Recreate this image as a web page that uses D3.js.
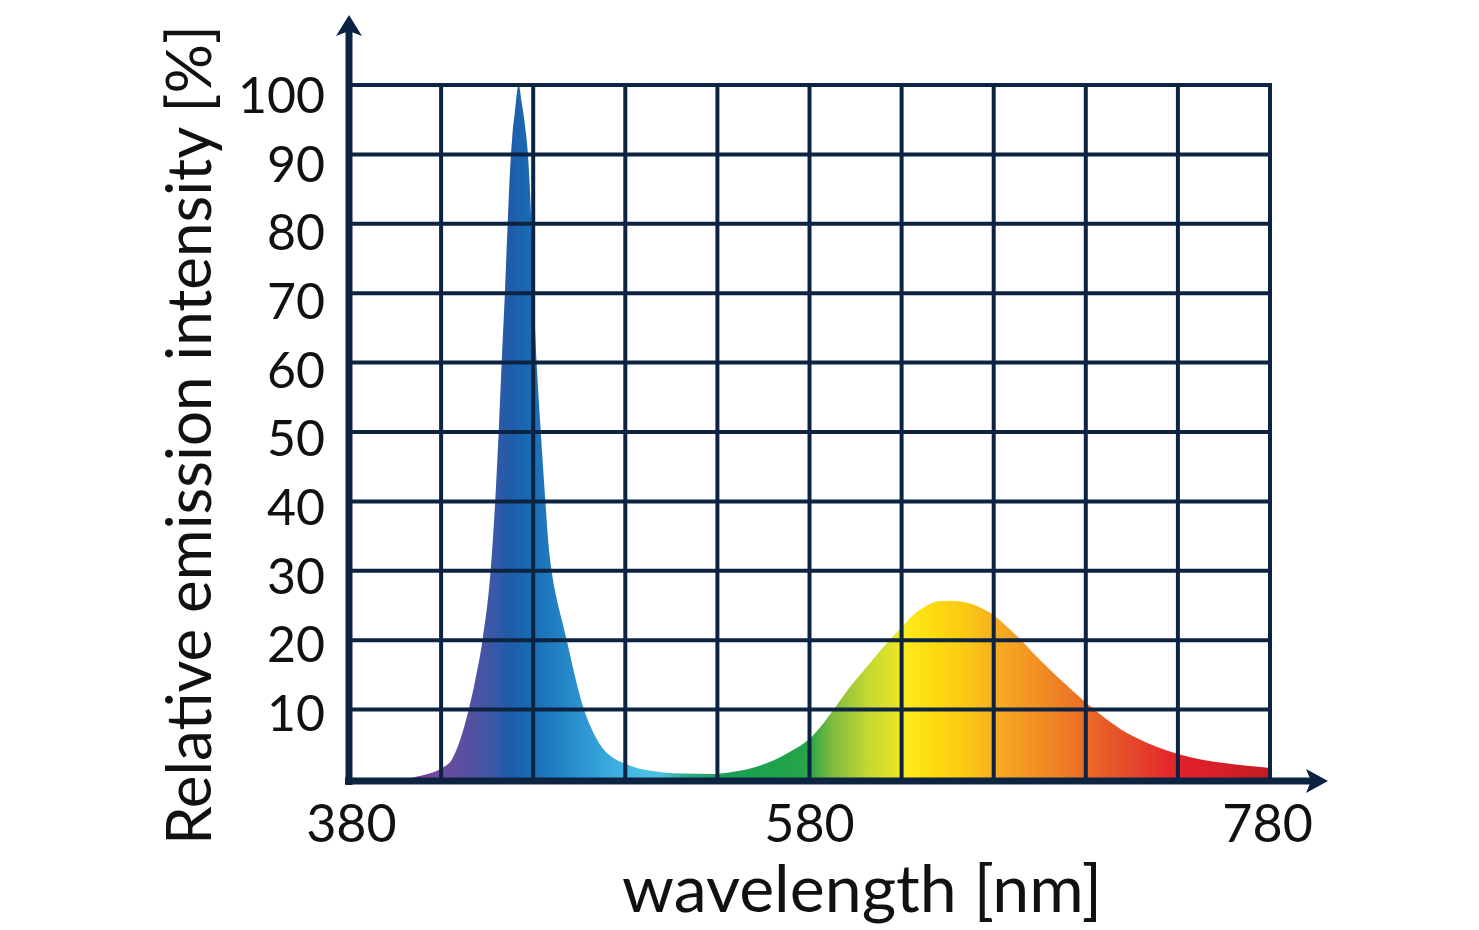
<!DOCTYPE html>
<html>
<head>
<meta charset="utf-8">
<script src="https://cdn.jsdelivr.net/npm/d3@7"></script>
<style>
  html, body { margin: 0; padding: 0; background: #fff; }
  svg { display: block; }
  text { font-family: "Lato", "DejaVu Sans", sans-serif; fill: #111; }
</style>
</head>
<body>
<svg id="chart" width="1479" height="930"></svg>
<script>
// ---- data ----
const wavelengths = [405, 410, 415, 420, 425, 430, 432, 435, 438, 441.5, 443.5, 445, 446.3, 447.7, 448.9, 450, 450.9, 452, 453.7,
  455, 456.5, 457.6, 458.5, 459.3, 460.2, 461.5, 463.3, 465.3, 466.6, 468, 470, 472.5, 474.7, 478, 481.6, 485, 490, 495, 500, 505, 512, 516.4, 525, 538,
  545, 553, 561.5, 567, 573, 580, 585, 590, 597, 605, 612, 619, 625, 631, 636, 641, 647, 653, 660, 665, 671, 677,
  684, 690, 699, 709, 716, 723.5, 731, 740, 750, 760, 770, 780];
const intensity = [0, 0.4, 0.8, 1.5, 3, 7.5, 10, 14.5, 20, 30, 40, 50, 60, 70, 80, 88, 92.5, 96, 100,
  97.5, 94, 90.5, 85.5, 79, 70, 60, 50, 40, 34, 30, 26.3, 22.8, 19.8, 15, 10.5, 7.5, 4.5, 3.0, 2.2, 1.6, 1.15, 0.95, 0.78, 0.72,
  0.95, 1.4, 2.3, 3.1, 4.2, 5.8, 7.6, 9.8, 13.0, 16.2, 19.0, 21.5, 23.6, 25.0, 25.6, 25.7, 25.5, 24.9, 23.6, 22.2, 20.3, 18.2,
  15.9, 14.0, 11.3, 8.6, 7.0, 5.7, 4.6, 3.6, 2.8, 2.3, 1.9, 1.6];
const xTicks = [380, 580, 780];
const xGrid = [380, 420, 460, 500, 540, 580, 620, 660, 700, 740, 780];
const yTicks = [10, 20, 30, 40, 50, 60, 70, 80, 90, 100];
const gradWl = [405, 420, 432, 442, 450, 458, 468, 480, 492, 505, 515, 527, 545, 565, 580, 590, 605, 616, 622, 635, 648, 662, 680, 700, 720, 740, 760, 780];
const gradColors = ["#7c3f96", "#6e4a9e", "#55509f", "#3b58a6", "#1e5ca8", "#1b6ab3", "#1f7cc0", "#2b92cf", "#38a8dd", "#48bce6",
  "#4fbfe0", "#2eaa86", "#1d9f55", "#1ea34c", "#2aa548", "#7fbb3e", "#c4d732", "#e2e12a", "#fde91c", "#fdd90f", "#fbc812",
  "#f6aa22", "#f28e22", "#ea6b27", "#e5482a", "#e2222a", "#d51f26", "#c41a22"];
const xLabel = "wavelength [nm]";
const yLabel = "Relative emission intensity [%]";

// ---- layout ----
const svg = d3.select("#chart");
const x = d3.scaleLinear().domain([380, 780]).range([349, 1270]);
const y = d3.scaleLinear().domain([0, 100]).range([779, 85]);
const yLab = d3.scaleLinear().domain([10, 100]).range([713, 95]);
const navy = "#0c2342";

// gradient
const defs = svg.append("defs");
const grad = defs.append("linearGradient").attr("id", "spec")
  .attr("gradientUnits", "userSpaceOnUse")
  .attr("x1", x(380)).attr("x2", x(780)).attr("y1", 0).attr("y2", 0);
gradWl.forEach((w, i) => {
  grad.append("stop").attr("offset", (w - 380) / 400).attr("stop-color", gradColors[i]);
});

// fill
const data = wavelengths.map((w, i) => ({ w, v: intensity[i] }));
const area = d3.area().x(d => x(d.w)).y0(y(0)).y1(d => y(d.v)).curve(d3.curveMonotoneX);
svg.append("path").datum(data).attr("d", area).attr("fill", "url(#spec)");

// grid
svg.append("g").selectAll("line").data(xGrid.slice(1)).join("line")
  .attr("x1", d => x(d)).attr("x2", d => x(d)).attr("y1", y(100) - 2).attr("y2", y(0))
  .attr("stroke", navy).attr("stroke-width", 4);
svg.append("g").selectAll("line").data(yTicks).join("line")
  .attr("x1", x(380)).attr("x2", x(780) + 2).attr("y1", d => y(d)).attr("y2", d => y(d))
  .attr("stroke", navy).attr("stroke-width", 4);

// axes
svg.append("line").attr("x1", x(380)).attr("x2", x(380)).attr("y1", y(0) + 6).attr("y2", 30)
  .attr("stroke", navy).attr("stroke-width", 7);
svg.append("line").attr("x1", x(380) - 4).attr("x2", 1312).attr("y1", y(0) + 2).attr("y2", y(0) + 2)
  .attr("stroke", navy).attr("stroke-width", 7);
// arrowheads
const ax = x(380);
svg.append("path").attr("fill", navy)
  .attr("d", `M${ax},15 L${ax + 13},36 L${ax},31 L${ax - 13},36 Z`);
const ay = y(0) + 2;
svg.append("path").attr("fill", navy)
  .attr("d", `M1328,${ay} L1306,${ay + 12} L1311,${ay} L1306,${ay - 12} Z`);

// y tick labels
svg.append("g").selectAll("text").data(yTicks).join("text")
  .attr("x", 325).attr("y", d => yLab(d)).attr("dy", "0.36em")
  .attr("text-anchor", "end").attr("font-size", 50).text(d => d);

// x tick labels
svg.append("g").selectAll("text").data(xTicks).join("text")
  .attr("x", d => x(d) - (d - 580) * 0.012).attr("y", 842)
  .attr("text-anchor", "middle").attr("font-size", 52).text(d => d);

// axis titles
function fit(sel, target) {
  const w = sel.node().getComputedTextLength();
  const fs = parseFloat(sel.attr("font-size"));
  sel.attr("font-size", fs * target / w);
}
const xt = svg.append("text").attr("x", 862).attr("y", 912).attr("text-anchor", "middle")
  .attr("font-size", 52).text(xLabel);
fit(xt, 480);
const yt = svg.append("text").attr("transform", "translate(211,435) rotate(-90)")
  .attr("text-anchor", "middle").attr("font-size", 52).text(yLabel);
fit(yt, 820);
</script>
</body>
</html>
